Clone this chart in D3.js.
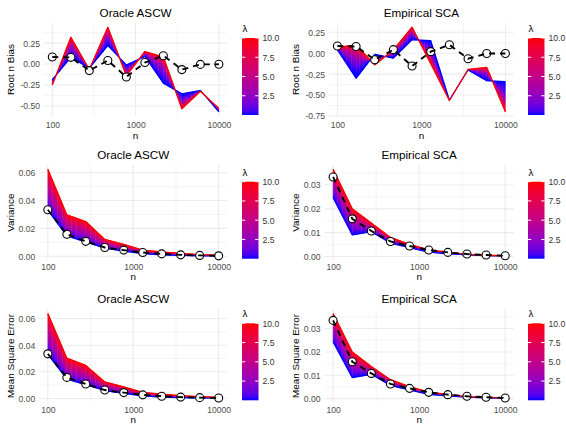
<!DOCTYPE html>
<html>
<head>
<meta charset="utf-8">
<script src="https://cdn.jsdelivr.net/npm/d3@7"></script>
<style>
  body { margin: 0; background: #fff; }
  text { font-family: "Liberation Sans", Arial, Helvetica, sans-serif; }
</style>
</head>
<body>
<svg id="chart" width="566" height="425"></svg>
<script>
// sample sizes (log spaced)
const nValues = [100, 167, 278, 464, 774, 1292, 2154, 3594, 5995, 10000];
const xTicks = [100, 1000, 10000];
const lambdaDomain = [0, 10];
const legendTicks = [2.5, 5, 7.5, 10];

// y tick labels
const biasTicksOracle = [-0.5, -0.25, 0, 0.25];
const biasTicksEmp = [-0.75, -0.5, -0.25, 0, 0.25];
const varTicksOracle = [0, 0.02, 0.04, 0.06];
const varTicksEmp = [0, 0.01, 0.02, 0.03];

// root n bias: lambda = 0 edge (blue) and lambda = 10 edge (red)
const oracleBiasLow  = [-0.185, 0.08, -0.05, 0.22, -0.01, 0.09, -0.23, -0.355, -0.315, -0.57];
const oracleBiasHigh = [-0.25, 0.32, -0.065, 0.44, -0.14, 0.15, 0.085, -0.535, -0.325, -0.53];
const empBiasLow  = [0.04, -0.30, -0.013, -0.06, 0.16, 0.15, -0.56, -0.20, -0.33, -0.34];
const empBiasHigh = [0.07, 0.10, -0.14, 0.04, 0.31, -0.125, -0.565, -0.195, -0.17, -0.70];
const refBias = [0.085, 0.08, -0.078, 0.042, -0.154, 0.018, 0.10, -0.066, -0.004, -0.003];

// variance
const oracleVarLow  = [0.033, 0.0145, 0.0102, 0.0058, 0.0037, 0.0019, 0.0009, 0.0006, 0.0003, 0.0002];
const oracleVarHigh = [0.0624, 0.0297, 0.0249, 0.0121, 0.0085, 0.0044, 0.0031, 0.002, 0.0012, 0.0008];
const empVarLow  = [0.0247, 0.009, 0.0104, 0.0056, 0.0037, 0.0018, 0.0011, 0.0006, 0.0003, 0.0002];
const empVarHigh = [0.0366, 0.020, 0.014, 0.008, 0.0051, 0.0028, 0.0018, 0.0009, 0.0005, 0.0003];
const refVar = [0.0334, 0.0158, 0.0107, 0.0063, 0.0044, 0.0027, 0.0017, 0.001, 0.0006, 0.0003];

// mean square error
const oracleMseLow  = [0.033, 0.0145, 0.0103, 0.0059, 0.0038, 0.0019, 0.0009, 0.0006, 0.0003, 0.0002];
const oracleMseHigh = [0.0637, 0.0302, 0.0248, 0.0124, 0.0087, 0.0046, 0.0032, 0.0021, 0.0013, 0.0009];
const empMseLow  = [0.0243, 0.009, 0.0104, 0.0056, 0.0037, 0.0018, 0.0011, 0.0006, 0.0003, 0.0002];
const empMseHigh = [0.0364, 0.020, 0.0138, 0.0081, 0.0051, 0.0028, 0.0018, 0.0009, 0.0005, 0.0003];
const refMse = [0.0335, 0.0158, 0.0108, 0.0063, 0.0044, 0.0027, 0.0017, 0.001, 0.0006, 0.0003];

// layout
const rows = [
  {t: 23, b: 116, tickY: 125.3, nY: 136, barTop: 38},
  {t: 165, b: 260.3, tickY: 266.7, nY: 276.7, barTop: 181.7},
  {t: 309.4, b: 402.4, tickY: 410, nY: 420, barTop: 323.3}
];
const cols = [
  {r: 227.2, yTitleX: 11, barX: 242},
  {r: 513.8, yTitleX: 296, barX: 528}
];
const panels = [
  {row: 0, col: 0, left: 44, title: "Oracle ASCW", ylab: "Root n Bias", low: oracleBiasLow, high: oracleBiasHigh, ref: refBias, ticks: biasTicksOracle, gamma: 2.2},
  {row: 0, col: 1, left: 329, title: "Empirical SCA", ylab: "Root n Bias", low: empBiasLow, high: empBiasHigh, ref: refBias, ticks: biasTicksEmp, gamma: 2.2},
  {row: 1, col: 0, left: 39.3, title: "Oracle ASCW", ylab: "Variance", low: oracleVarLow, high: oracleVarHigh, ref: refVar, ticks: varTicksOracle, gamma: 1.2},
  {row: 1, col: 1, left: 324.5, title: "Empirical SCA", ylab: "Variance", low: empVarLow, high: empVarHigh, ref: refVar, ticks: varTicksEmp, gamma: 1.4},
  {row: 2, col: 0, left: 39.3, title: "Oracle ASCW", ylab: "Mean Square Error", low: oracleMseLow, high: oracleMseHigh, ref: refMse, ticks: varTicksOracle, gamma: 1.2},
  {row: 2, col: 1, left: 324.5, title: "Empirical SCA", ylab: "Mean Square Error", low: empMseLow, high: empMseHigh, ref: refMse, ticks: varTicksEmp, gamma: 1.4}
];

const svg = d3.select("#chart");
const defs = svg.append("defs");
const lambdaColor = d3.scaleLinear().domain(lambdaDomain).range(["#0000FF", "#FF0000"]).interpolate(d3.interpolateLab);
const fmt2 = d3.formatLocale({decimal: ".", thousands: ",", grouping: [3], currency: ["", ""], minus: "-"}).format(".2f");
const SLICES = 4;
let gid = 0;

// legend gradient (shared)
const lg = defs.append("linearGradient").attr("id", "legendGrad")
  .attr("x1", 0).attr("y1", 1).attr("x2", 0).attr("y2", 0);
d3.range(21).forEach(j => {
  lg.append("stop").attr("offset", j / 20).attr("stop-color", lambdaColor(lambdaDomain[0] + (lambdaDomain[1] - lambdaDomain[0]) * j / 20));
});

panels.forEach(drawPanel);

function splitAtCrossing(xa, ba, ra, xb, bb, rb) {
  const da = ra - ba, db = rb - bb;
  if (da * db < 0) {
    const t = da / (da - db);
    const xc = xa + t * (xb - xa), yc = ba + t * (bb - ba);
    return [[xa, ba, ra, xc, yc, yc], [xc, yc, yc, xb, bb, rb]];
  }
  return [[xa, ba, ra, xb, bb, rb]];
}

function shadeSlice(layer, x0, b0, r0, x1, b1, r1, gamma) {
  const mx = (x0 + x1) / 2, my = (b0 + r0 + b1 + r1) / 4;
  let ux = x1 - x0, uy = ((b1 + r1) - (b0 + r0)) / 2;
  const len = Math.hypot(ux, uy) || 1;
  ux /= len; uy /= len;
  const nx = -uy, ny = ux;
  const w = ((r0 - b0) + (r1 - b1)) / 2;
  const pr = w * ny;
  const d = `M${x0},${b0}L${x1},${b1}L${x1},${r1}L${x0},${r0}Z`;
  let paint;
  if (Math.abs(pr) < 0.05) {
    paint = lambdaColor(10 * Math.pow(0.5, gamma));
  } else {
    const id = "fan" + (gid++);
    const grad = defs.append("linearGradient").attr("id", id).attr("gradientUnits", "userSpaceOnUse")
      .attr("x1", mx - nx * pr / 2).attr("y1", my - ny * pr / 2)
      .attr("x2", mx + nx * pr / 2).attr("y2", my + ny * pr / 2);
    d3.range(11).forEach(j => {
      const t = j / 10;
      grad.append("stop").attr("offset", t).attr("stop-color", lambdaColor(10 * Math.pow(t, gamma)));
    });
    paint = `url(#${id})`;
  }
  layer.append("path").attr("d", d).attr("fill", paint).attr("stroke", paint).attr("stroke-width", 0.5);
}

function drawPanel(p) {
  const rg = rows[p.row], cg = cols[p.col];
  const L = p.left, R = cg.r, T = rg.t, B = rg.b;
  const g = svg.append("g");

  const lx = d3.extent(nValues).map(Math.log10), padX = (lx[1] - lx[0]) * 0.05;
  const x = d3.scaleLog().domain([Math.pow(10, lx[0] - padX), Math.pow(10, lx[1] + padX)]).range([L, R]);
  const ey = d3.extent(p.low.concat(p.high, p.ref)), padY = (ey[1] - ey[0]) * 0.05;
  const y = d3.scaleLinear().domain([ey[0] - padY, ey[1] + padY]).range([B, T]);
  const [y0, y1] = y.domain();

  // grid
  const xMinor = [Math.pow(10, 2.5), Math.pow(10, 3.5)];
  const step = p.ticks[1] - p.ticks[0];
  const yMinor = [p.ticks[0] - step / 2].concat(p.ticks.map(t => t + step / 2)).filter(v => v >= y0 && v <= y1);
  const grid = g.append("g").attr("stroke", "#EBEBEB");
  grid.selectAll(".ym").data(yMinor).enter().append("line")
    .attr("x1", L).attr("x2", R).attr("y1", d => y(d)).attr("y2", d => y(d)).attr("stroke-width", 0.55);
  grid.selectAll(".xm").data(xMinor).enter().append("line")
    .attr("y1", T).attr("y2", B).attr("x1", d => x(d)).attr("x2", d => x(d)).attr("stroke-width", 0.55);
  grid.selectAll(".yM").data(p.ticks).enter().append("line")
    .attr("x1", L).attr("x2", R).attr("y1", d => y(d)).attr("y2", d => y(d)).attr("stroke-width", 1.07);
  grid.selectAll(".xM").data(xTicks).enter().append("line")
    .attr("y1", T).attr("y2", B).attr("x1", d => x(d)).attr("x2", d => x(d)).attr("stroke-width", 1.07);

  // fan between lambda = 0 and lambda = 10
  const fan = g.append("g");
  for (let i = 0; i < nValues.length - 1; i++) {
    const xa = x(nValues[i]), xb = x(nValues[i + 1]);
    const segs = splitAtCrossing(xa, y(p.low[i]), y(p.high[i]), xb, y(p.low[i + 1]), y(p.high[i + 1]));
    segs.forEach(s => {
      for (let k = 0; k < SLICES; k++) {
        const s0 = k / SLICES, s1 = (k + 1) / SLICES;
        const lerp = (a, b, t) => a + (b - a) * t;
        shadeSlice(fan,
          lerp(s[0], s[3], s0), lerp(s[1], s[4], s0), lerp(s[2], s[5], s0),
          lerp(s[0], s[3], s1), lerp(s[1], s[4], s1), lerp(s[2], s[5], s1), p.gamma);
      }
    });
  }

  const lineLow = d3.line().x((d, i) => x(nValues[i])).y(d => y(d));
  g.append("path").datum(p.low).attr("d", lineLow).attr("fill", "none")
    .attr("stroke", lambdaColor(lambdaDomain[0])).attr("stroke-width", 1.1).attr("stroke-linejoin", "round");
  g.append("path").datum(p.high).attr("d", lineLow).attr("fill", "none")
    .attr("stroke", lambdaColor(lambdaDomain[1])).attr("stroke-width", 1.3).attr("stroke-linejoin", "round");

  // reference estimator: open circles with dashed line on top
  g.selectAll(".pt").data(p.ref).enter().append("circle")
    .attr("cx", (d, i) => x(nValues[i])).attr("cy", d => y(d)).attr("r", 4)
    .attr("fill", "#fff").attr("stroke", "#000").attr("stroke-width", 1.1);
  g.append("path").datum(p.ref).attr("d", lineLow).attr("fill", "none")
    .attr("stroke", "#000").attr("stroke-width", 1.9).attr("stroke-dasharray", "6,5");

  // axes
  const xAxis = g.append("g").attr("transform", `translate(0,${rg.tickY})`)
    .call(d3.axisBottom(x).tickValues(xTicks).tickFormat(d3.format("d")).tickSize(0).tickPadding(0));
  xAxis.select(".domain").remove();
  xAxis.selectAll("text").attr("y", 0).attr("dy", "0.35em")
    .attr("fill", "#4D4D4D").style("font-size", "8.6px").style("font-family", "Liberation Sans, Arial, sans-serif");

  const yAxis = g.append("g").attr("transform", `translate(${L},0)`)
    .call(d3.axisLeft(y).tickValues(p.ticks).tickFormat(fmt2).tickSize(0).tickPadding(4));
  yAxis.select(".domain").remove();
  yAxis.selectAll("text").attr("dy", "0.34em")
    .attr("fill", "#4D4D4D").style("font-size", "8.6px").style("font-family", "Liberation Sans, Arial, sans-serif");

  // titles
  g.append("text").attr("x", (L + R) / 2).attr("y", T - 6.2).attr("text-anchor", "middle")
    .style("font-size", "11.7px").attr("fill", "#000").text(p.title);
  g.append("text").attr("x", (L + R) / 2).attr("y", rg.nY).attr("dy", "0.35em").attr("text-anchor", "middle")
    .style("font-size", "9.9px").attr("fill", "#000").text("n");
  g.append("text").attr("transform", `translate(${cg.yTitleX},${(T + B) / 2}) rotate(-90)`)
    .attr("dy", "0.35em").attr("text-anchor", "middle")
    .style("font-size", "9.9px").attr("fill", "#000").text(p.ylab);

  // colour bar legend
  const barW = 16.5, barH = 77;
  const lgScale = d3.scaleLinear().domain(lambdaDomain).range([rg.barTop + barH, rg.barTop]);
  const leg = g.append("g");
  leg.append("text").attr("x", cg.barX + 0.5).attr("y", rg.barTop - 9.5).attr("dy", "0.35em")
    .style("font-size", "9.9px").attr("fill", "#000").text("λ");
  leg.append("rect").attr("x", cg.barX).attr("y", rg.barTop).attr("width", barW).attr("height", barH)
    .attr("fill", "url(#legendGrad)");
  leg.selectAll(".tk").data(legendTicks.flatMap(v => [[v, 0], [v, 1]])).enter().append("line")
    .attr("x1", d => d[1] ? cg.barX + barW - 3.3 : cg.barX)
    .attr("x2", d => d[1] ? cg.barX + barW : cg.barX + 3.3)
    .attr("y1", d => lgScale(d[0])).attr("y2", d => lgScale(d[0]))
    .attr("stroke", "#fff").attr("stroke-width", 1);
  const legAxis = leg.append("g").attr("transform", `translate(${cg.barX + barW},0)`)
    .call(d3.axisRight(lgScale).tickValues(legendTicks).tickFormat(d3.format(".1f")).tickSize(0).tickPadding(4));
  legAxis.select(".domain").remove();
  legAxis.selectAll("text").attr("dy", "0.34em")
    .attr("fill", "#333").style("font-size", "8.6px").style("font-family", "Liberation Sans, Arial, sans-serif");
}
</script>
</body>
</html>
